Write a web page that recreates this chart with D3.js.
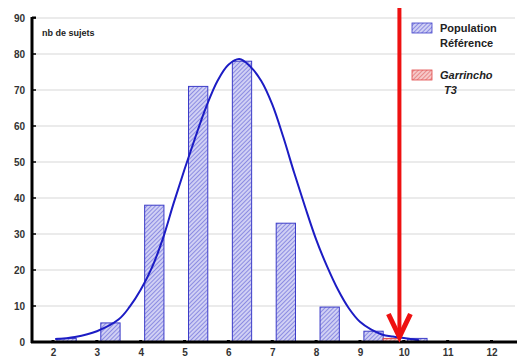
<!DOCTYPE html>
<html><head><meta charset="utf-8">
<script src="https://cdn.jsdelivr.net/npm/d3@7"></script>
<style>body{margin:0;background:#fff}svg{display:block}</style>
</head><body>
<script>
// ---- data ----
const yTicks = [0,10,20,30,40,50,60,70,80,90];
const xTicks = [2,3,4,5,6,7,8,9,10,11,12];
const popBins = [2,3,4,5,6,7,8,9,10];
const popCounts = [1,5.3,38,71,78,33,9.7,3,1];
const garBins = [9.5];
const garCounts = [1];
const curveX = [2.05,2.5,3.0,3.5,3.75,4.0,4.25,4.5,4.75,5.0,5.25,5.5,5.75,6.0,6.25,6.5,6.75,7.0,7.25,7.5,7.75,8.0,8.25,8.5,8.75,9.0,9.25,9.5,9.75,10.0,10.35];
const curveY = [0.8,1.4,3.0,6.3,9.8,14.5,20.5,28.5,38.5,48,57,65.5,72.5,77,78.6,76.5,72.5,66,57,47,37.5,28.5,21,14.5,9.3,5.6,3.5,2.1,1.5,1.1,0.5];
const arrowX = 9.9;
const yLabel = "nb de sujets";
const legendItems = ["Population|Référence", "Garrincho|T3"];

// ---- layout ----
const W = 525, H = 358;
const x = d3.scaleLinear().domain([2,12]).range([53,491.5]);
const y = d3.scaleLinear().domain([0,90]).range([342,18]);
const barOff = 0.09, barW = 0.44;

const svg = d3.select("body").append("svg").attr("width",W).attr("height",H)
  .style("font-family","Arial, 'Liberation Sans', sans-serif");

const defs = svg.append("defs");
function hatch(id, bg, fg){
  const p = defs.append("pattern").attr("id",id).attr("patternUnits","userSpaceOnUse")
    .attr("width",3).attr("height",3).attr("patternTransform","rotate(45)");
  p.append("rect").attr("width",3).attr("height",3).attr("fill",bg);
  p.append("line").attr("x1",0).attr("y1",0).attr("x2",0).attr("y2",3)
    .attr("stroke",fg).attr("stroke-width",1.2);
}
hatch("hb","#d0d0f4","#5e5ed6");
hatch("hr","#f6c8c8","#e06060");

// gridlines
svg.append("g").selectAll("line").data(yTicks.filter(d=>d>0)).join("line")
  .attr("x1",33).attr("x2",515).attr("y1",d=>y(d)).attr("y2",d=>y(d))
  .attr("stroke","#e4e4e4").attr("stroke-width",1.5);

// y axis
const ya = svg.append("g").attr("transform","translate(32,0)")
  .call(d3.axisLeft(y).tickValues(yTicks).tickSize(0).tickPadding(7));
ya.select(".domain").remove();
ya.selectAll("text").attr("font-size",10).attr("fill","#333").attr("font-weight","bold").attr("dy","0.32em");
svg.append("line").attr("x1",32).attr("x2",32).attr("y1",17).attr("y2",343)
  .attr("stroke","#000").attr("stroke-width",3);
svg.append("line").attr("x1",32).attr("x2",36).attr("y1",17.5).attr("y2",17.5)
  .attr("stroke","#000").attr("stroke-width",2);
svg.append("g").selectAll("line").data(yTicks).join("line")
  .attr("x1",32).attr("x2",36).attr("y1",d=>y(d)).attr("y2",d=>y(d))
  .attr("stroke","#000").attr("stroke-width",1.5);

svg.append("text").attr("x",42).attr("y",36).text(yLabel)
  .attr("font-size",9).attr("font-weight","bold").attr("fill","#222");

// bars
svg.append("g").selectAll("rect").data(popBins).join("rect")
  .attr("x",(d)=>x(d+barOff)).attr("width",(d)=>x(d+barOff+barW)-x(d+barOff))
  .attr("y",(d,i)=>y(popCounts[i])).attr("height",(d,i)=>y(0)-y(popCounts[i]))
  .attr("fill","url(#hb)").attr("stroke","#3c3cc8").attr("stroke-width",1);
svg.append("g").selectAll("rect").data(garBins).join("rect")
  .attr("x",(d)=>x(d+0.03)).attr("width",(d)=>x(d+0.03+0.38)-x(d+0.03))
  .attr("y",(d,i)=>y(garCounts[i])).attr("height",(d,i)=>y(0)-y(garCounts[i]))
  .attr("fill","url(#hr)").attr("stroke","#e04848").attr("stroke-width",1);

// curve
const pts = curveX.map((d,i)=>[d,curveY[i]]);
svg.append("path").datum(pts)
  .attr("d", d3.line().x(d=>x(d[0])).y(d=>y(d[1])).curve(d3.curveCatmullRom))
  .attr("fill","none").attr("stroke","#1c1cc4").attr("stroke-width",2);

// x axis
svg.append("line").attr("x1",31).attr("x2",517).attr("y1",342).attr("y2",342)
  .attr("stroke","#000").attr("stroke-width",3);
const xa = svg.append("g").attr("transform","translate(0,342)")
  .call(d3.axisBottom(x).tickValues(xTicks).tickSize(0).tickPadding(7).tickFormat(d3.format("d")));
xa.select(".domain").remove();
xa.selectAll("text").attr("font-size",10).attr("fill","#333").attr("font-weight","bold");
svg.append("g").selectAll("rect").data(xTicks).join("rect")
  .attr("x",d=>x(d)-1.5).attr("y",340).attr("width",3).attr("height",1.5).attr("fill","#000");

// red arrow
const ax = x(arrowX);
svg.append("line").attr("x1",ax).attr("x2",ax).attr("y1",8).attr("y2",336)
  .attr("stroke","#ee1111").attr("stroke-width",4);
svg.append("path")
  .attr("d",`M${ax-11},${314}L${ax},${337}L${ax+11},${314}`)
  .attr("fill","none").attr("stroke","#ee1111").attr("stroke-width",5).attr("stroke-linejoin","miter");

// legend
const lg = svg.append("g");
const sw = ["url(#hb)","url(#hr)"], swS = ["#3c3cc8","#e04848"];
const swY = [23,70];
legendItems.forEach((t,i)=>{
  lg.append("rect").attr("x",412).attr("y",swY[i]).attr("width",20).attr("height",10)
    .attr("fill",sw[i]).attr("stroke",swS[i]).attr("stroke-width",0.8);
  const parts = t.split("|");
  const tx = lg.append("text").attr("font-size",11).attr("font-weight","bold").attr("fill","#222")
    .attr("font-style", i===1 ? "italic" : "normal");
  tx.append("tspan").attr("x",440).attr("y",swY[i]+9).text(parts[0]);
  tx.append("tspan").attr("x",i===1?444:440).attr("y",swY[i]+24).text(parts[1]);
});
</script>
</body></html>
